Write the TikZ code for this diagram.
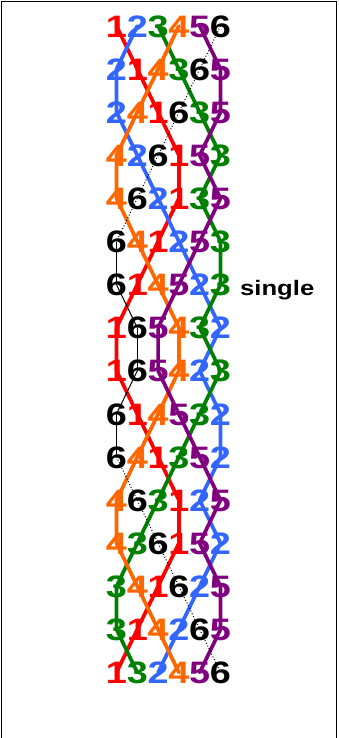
\documentclass[tikz,border=0pt]{standalone}
\usepackage{fontspec}
\newfontfamily\bellfont{Liberation Sans}[FakeStretch=1.22]
\definecolor{c1}{RGB}{255,0,0}
\definecolor{c2}{RGB}{51,102,255}
\definecolor{c3}{RGB}{0,128,0}
\definecolor{c4}{RGB}{255,102,0}
\definecolor{c5}{RGB}{128,0,128}
\definecolor{c6}{RGB}{0,0,0}
\tikzset{
  bellnum/.style={inner sep=0pt, text height=22.2pt, text depth=0pt, minimum height=24pt,
    font=\bellfont\bfseries\fontsize{31}{31}\selectfont, text=c#1},
  bellline/.style={draw=c#1, line width=3.7pt, line join=round, line cap=round},
  sixdot/.style={draw=black, line width=1pt, dash pattern=on 1pt off 2pt},
  sixsolid/.style={draw=black, line width=1pt},
  framestyle/.style={draw=black, line width=1.8pt},
  labelstyle/.style={font=\bellfont\bfseries\fontsize{21}{21}\selectfont, inner sep=0pt, anchor=base west}
}
\begin{document}
\begin{tikzpicture}[x=1pt,y=-1pt]
\useasboundingbox (0,0) rectangle (338,738);
\draw[framestyle] (1.5,738) -- (1.5,1.5) -- (336.5,1.5) -- (336.5,738);
% bell positions (nodes placed, text drawn later on top)
\foreach \rowlist [count=\r] in {{1,2,3,4,5,6},{2,1,4,3,6,5},{2,4,1,6,3,5},{4,2,6,1,5,3},
  {4,6,2,1,3,5},{6,4,1,2,5,3},{6,1,4,5,2,3},{1,6,5,4,3,2},{1,6,5,4,2,3},{6,1,4,5,3,2},
  {6,4,1,3,5,2},{4,6,3,1,2,5},{4,3,6,1,5,2},{3,4,1,6,2,5},{3,1,4,2,6,5},{1,3,2,4,5,6}}{
  \foreach \b [count=\p] in \rowlist {
    \path ({116.5+20.8*(\p-1)},{26+43.1*(\r-1)}) node[bellnum=\b] (b\b-\r) {\phantom{\b}};
  }
}
% coloured lines
\foreach \b in {1,...,5}{
  \draw[bellline=\b] (b\b-1.center) \foreach \r in {2,...,16}{ -- (b\b-\r.center) };
}
% bell 6 line
\foreach \r/\n in {1/2,2/3,3/4,4/5,5/6,11/12,12/13,13/14,14/15,15/16}{
  \draw[sixdot] (b6-\r.center) -- (b6-\n.center);
}
\foreach \r/\n in {6/7,7/8,8/9,9/10,10/11}{
  \draw[sixsolid] (b6-\r.center) -- (b6-\n.center);
}
% digits on top
\foreach \b in {1,...,6}{
  \foreach \r in {1,...,16}{
    \node[bellnum=\b] at (b\b-\r.center) {\b};
  }
}
\node[labelstyle] (single) at (240,295.7) {single};
\end{tikzpicture}
\end{document}
